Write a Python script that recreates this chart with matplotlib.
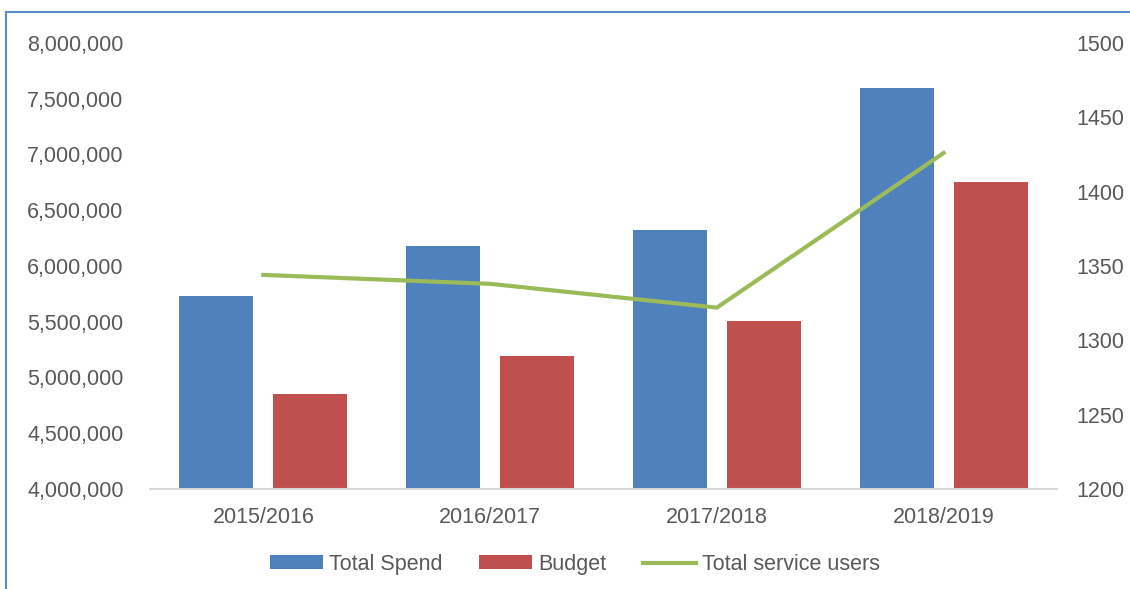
import matplotlib.pyplot as plt
from matplotlib.lines import Line2D
from matplotlib.ticker import FuncFormatter
import numpy as np

plt.rcParams['font.family'] = ['Liberation Sans', 'DejaVu Sans']

years = ['2015/2016', '2016/2017', '2017/2018', '2018/2019']
total_spend = [5731000, 6179000, 6323000, 7596000]
budget = [4852000, 5193000, 5507000, 6753000]
service_users = [1344, 1338, 1322, 1426]

blue = '#4F81BD'
red = '#C0504D'
green = '#9BBB59'
grey = '#595959'
fs = 15.5

fig = plt.figure(figsize=(11.3, 5.89), dpi=100)
ax = fig.add_axes([0.1327, 0.1698, 0.8027, 0.7572])
x = np.arange(len(years))
w = 0.326
b1 = ax.bar(x - 0.207, total_spend, w, color=blue, label='Total Spend')
b2 = ax.bar(x + 0.207, budget, w, color=red, label='Budget')

ax.set_xlim(-0.5, 3.5)
ax.set_ylim(4000000, 8000000)
ax.set_yticks(range(4000000, 8000001, 500000))
ax.yaxis.set_major_formatter(FuncFormatter(lambda v, p: f'{int(v):,}'))
ax.set_xticks(x)
ax.set_xticklabels(years)
for s in ['top', 'right', 'left']:
    ax.spines[s].set_visible(False)
ax.spines['bottom'].set_color('#D9D9D9')
ax.spines['bottom'].set_linewidth(1.5)
ax.tick_params(axis='y', length=0, pad=19, labelsize=fs, labelcolor=grey)
ax.tick_params(axis='x', length=0, pad=13, labelsize=fs, labelcolor=grey)

ax2 = ax.twinx()
ln, = ax2.plot(x, service_users, color=green, linewidth=3, label='Total service users')
ax2.set_ylim(1200, 1500)
ax2.set_yticks(range(1200, 1501, 50))
for s in ['top', 'right', 'left', 'bottom']:
    ax2.spines[s].set_visible(False)
ax2.tick_params(axis='y', length=0, pad=14, labelsize=fs, labelcolor=grey)

leg = fig.legend([b1, b2, ln], ['Total Spend', 'Budget', 'Total service users'],
                 loc='center', bbox_to_anchor=(0.509, 0.042), ncol=3, frameon=False,
                 fontsize=fs, handlelength=2.45, handleheight=0.6,
                 handletextpad=0.3, columnspacing=1.7)
for t in leg.get_texts():
    t.set_color(grey)

# outer border (left and top)
fig.add_artist(Line2D([0.0057, 0.0057], [0, 0.98], transform=fig.transFigure,
                      color='#5B8BC9', linewidth=1.5))
fig.add_artist(Line2D([0.0057, 1.0], [0.98, 0.98], transform=fig.transFigure,
                      color='#5B8BC9', linewidth=1.5))

fig.savefig('out.png', dpi=100)
